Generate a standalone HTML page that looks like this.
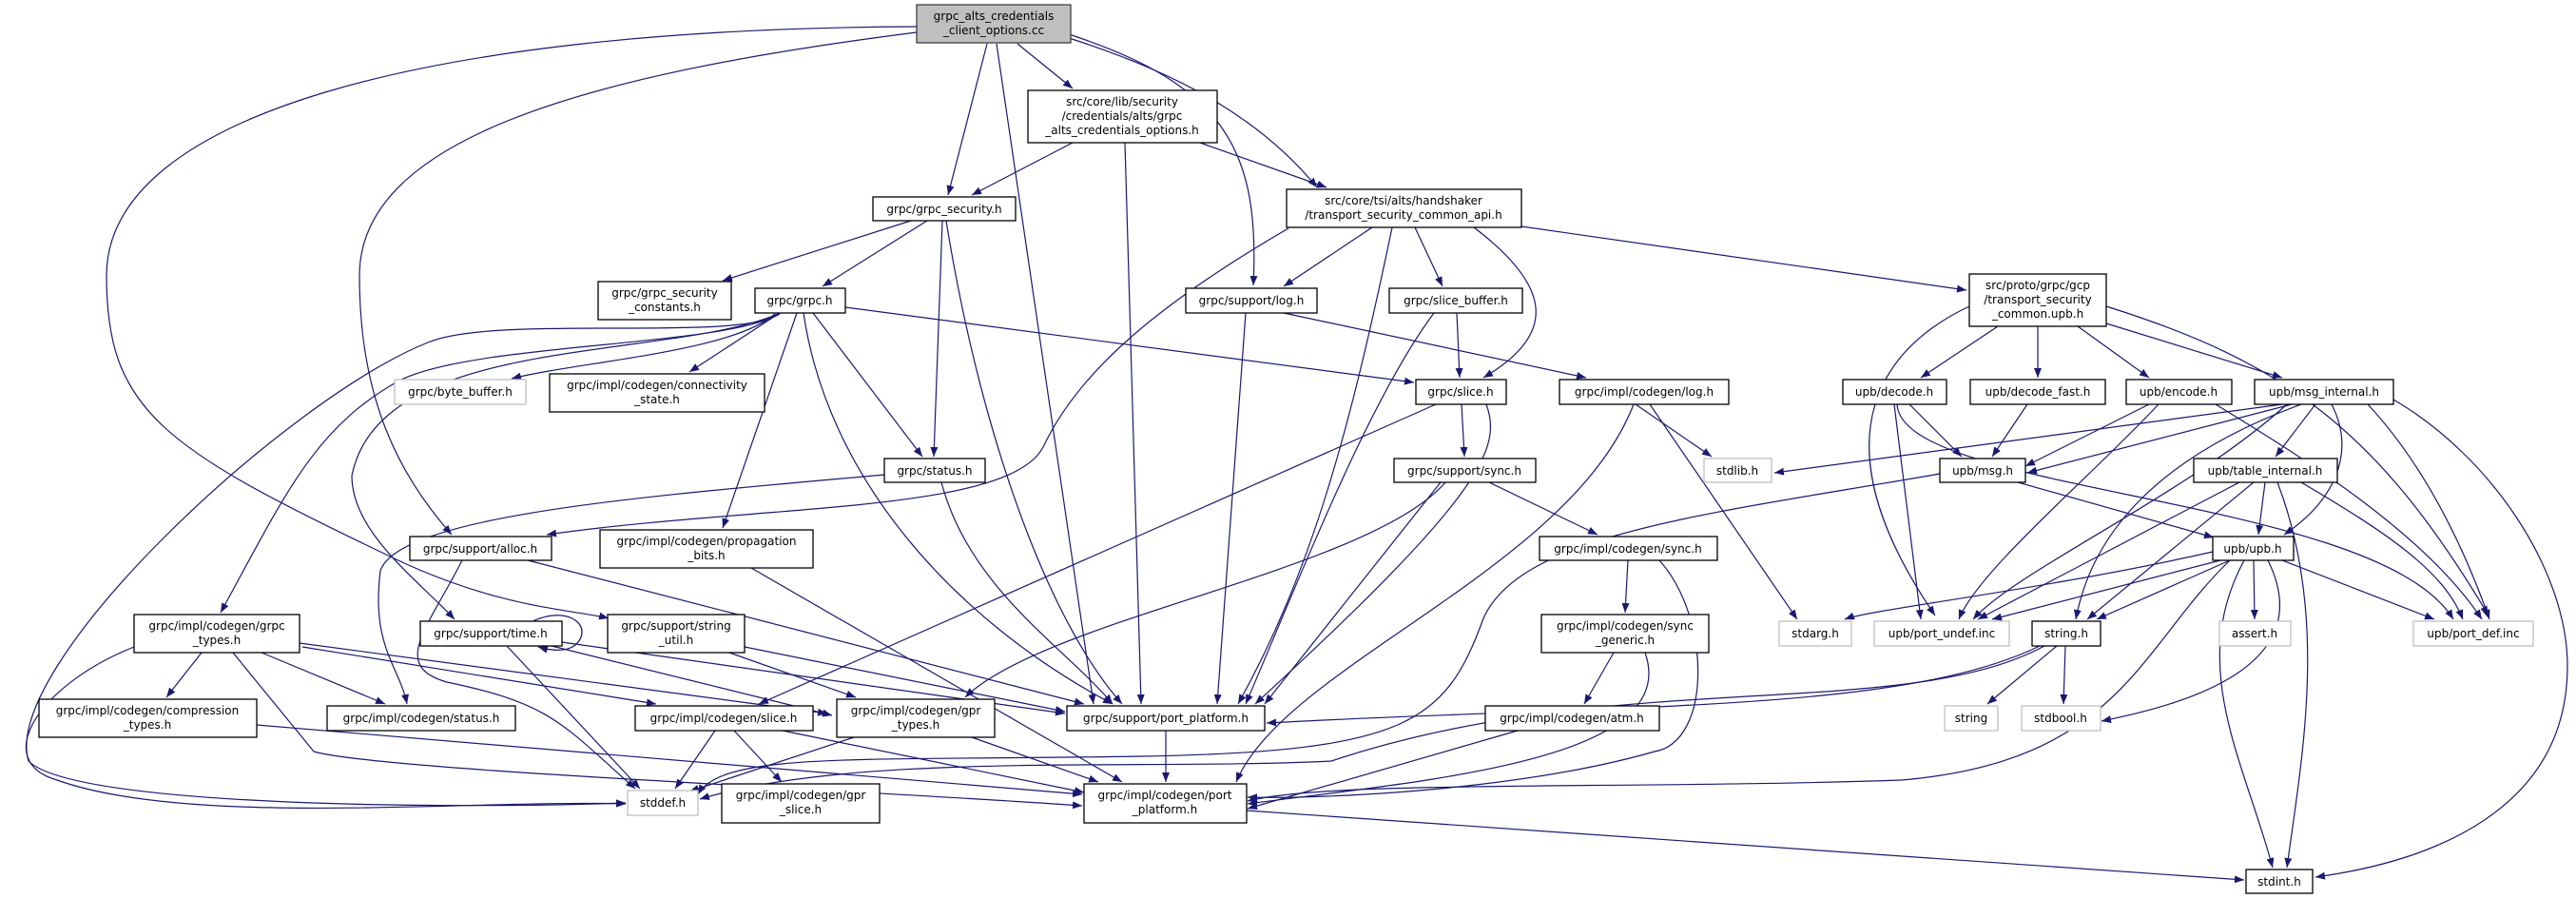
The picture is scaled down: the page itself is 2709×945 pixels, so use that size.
<!DOCTYPE html>
<html><head><meta charset="utf-8"><style>
html,body{margin:0;padding:0;background:#fff;}
svg{display:block;}
text{font-family:"DejaVu Sans","Liberation Sans",sans-serif;font-size:12px;fill:#000;text-anchor:middle;}
.e{fill:none;stroke:#191970;stroke-width:1.2;marker-end:url(#a);}
.n{fill:#fff;stroke:#000;stroke-width:1.3;}
.g{fill:#fff;stroke:#bfbfbf;stroke-width:1.3;}
</style></head><body>
<svg width="2709" height="945" viewBox="0 0 2709 945" xmlns="http://www.w3.org/2000/svg">
<defs><marker id="a" markerUnits="userSpaceOnUse" markerWidth="11" markerHeight="8" refX="10" refY="4" orient="auto"><path d="M0,0 L10,4 L0,8 z" fill="#191970"/></marker></defs>
<g>
<path class="e" d="M1070,46 L1128,93"/>
<path class="e" d="M1038,46 L997,205"/>
<path class="e" d="M1048,46 L1150,740"/>
<path class="e" d="M1124,36 C1290,90 1325,160 1318,300"/>
<path class="e" d="M1124,40 C1250,80 1330,130 1385,197"/>
<path class="e" d="M964,34 C600,80 378,150 378,290 C378,420 420,500 475,562"/>
<path class="e" d="M964,28 C450,30 112,120 112,290 C112,430 170,470 400,580 C520,640 600,640 640,650"/>
<path class="e" d="M1128,150 L1022,205"/>
<path class="e" d="M1183,150 L1200,740"/>
<path class="e" d="M1262,150 L1395,197"/>
<path class="e" d="M958,232 L760,295"/>
<path class="e" d="M975,232 L865,301"/>
<path class="e" d="M991,232 L982,480"/>
<path class="e" d="M995,232 C1030,450 1100,650 1180,740"/>
<path class="e" d="M815,330 C770,370 610,380 538,398"/>
<path class="e" d="M820,329 L725,391"/>
<path class="e" d="M889,323 L1487,402"/>
<path class="e" d="M855,329 L970,480"/>
<path class="e" d="M838,329 L760,555"/>
<path class="e" d="M845,329 C870,500 1000,650 1170,740"/>
<path class="e" d="M820,330 C760,365 500,360 420,400 C330,450 300,520 232,644"/>
<path class="e" d="M818,330 C700,380 400,350 370,500 C370,560 440,610 478,651"/>
<path class="e" d="M818,330 C780,360 520,330 450,360 C300,420 0,700 30,800 C80,850 500,850 658,844"/>
<path class="e" d="M1443,239 L1350,301"/>
<path class="e" d="M1488,239 L1517,301"/>
<path class="e" d="M1550,239 C1630,300 1640,350 1560,397"/>
<path class="e" d="M1464,239 C1420,450 1380,600 1302,740"/>
<path class="e" d="M1355,240 C1200,330 1130,400 1097,470 C1060,540 800,530 575,562"/>
<path class="e" d="M1600,238 L2068,305"/>
<path class="e" d="M1350,329 L1668,397"/>
<path class="e" d="M1310,329 L1280,740"/>
<path class="e" d="M1532,329 L1535,397"/>
<path class="e" d="M1508,329 C1440,420 1370,600 1310,740"/>
<path class="e" d="M1537,425 L1540,480"/>
<path class="e" d="M1510,425 L798,740"/>
<path class="e" d="M1563,425 C1580,470 1560,520 1320,740"/>
<path class="e" d="M1720,425 L1800,480"/>
<path class="e" d="M1735,425 L1890,651"/>
<path class="e" d="M1718,425 C1650,600 1350,700 1300,822"/>
<path class="e" d="M1566,507 L1680,562"/>
<path class="e" d="M1515,507 L1330,740"/>
<path class="e" d="M1520,507 C1440,600 1100,650 1015,733"/>
<path class="e" d="M1712,589 L1709,644"/>
<path class="e" d="M1745,589 C1800,650 1800,780 1740,790 C1600,830 1400,840 1312,838"/>
<path class="e" d="M1697,686 L1666,740"/>
<path class="e" d="M1730,686 C1770,800 1500,820 1312,845"/>
<path class="e" d="M1596,768 L1312,850"/>
<path class="e" d="M930,499 C700,520 420,540 400,600 C390,680 420,700 428,740"/>
<path class="e" d="M990,507 C1020,620 1120,680 1170,740"/>
<path class="e" d="M486,589 C450,660 410,700 470,717 C580,740 590,760 668,829"/>
<path class="e" d="M555,589 L1140,740"/>
<path class="e" d="M790,597 L1180,822"/>
<path class="e" d="M212,686 L175,733"/>
<path class="e" d="M275,686 L405,740"/>
<path class="e" d="M318,680 L690,740"/>
<path class="e" d="M315,676 L870,750"/>
<path class="e" d="M141,680 C40,720 -10,800 60,820 C200,870 500,840 658,845"/>
<path class="e" d="M245,686 L330,790 C400,810 900,830 1138,847"/>
<path class="e" d="M560,653 C600,635 625,660 605,678 C595,686 580,684 566,680"/>
<path class="e" d="M580,679 L875,752"/>
<path class="e" d="M533,679 L673,829"/>
<path class="e" d="M591,675 L1120,750"/>
<path class="e" d="M767,686 L900,733"/>
<path class="e" d="M783,680 L1120,748"/>
<path class="e" d="M270,762 L1138,835"/>
<path class="e" d="M752,768 L710,829"/>
<path class="e" d="M772,768 L822,822"/>
<path class="e" d="M823,768 L1140,833"/>
<path class="e" d="M898,775 L725,832"/>
<path class="e" d="M1022,775 L1155,822"/>
<path class="e" d="M1226,768 L1226,822"/>
<path class="e" d="M1311,852 L2360,925"/>
<path class="e" d="M2101,343 L2020,397"/>
<path class="e" d="M2143,343 L2143,397"/>
<path class="e" d="M2185,343 L2260,397"/>
<path class="e" d="M2215,340 L2400,397"/>
<path class="e" d="M2215,322 C2400,380 2500,450 2617,647"/>
<path class="e" d="M2071,322 C1990,360 1900,450 2035,647"/>
<path class="e" d="M2008,425 L2063,480"/>
<path class="e" d="M1992,425 L2020,651"/>
<path class="e" d="M1995,425 C2000,520 2500,520 2580,651"/>
<path class="e" d="M2132,425 L2095,480"/>
<path class="e" d="M2260,425 L2130,490"/>
<path class="e" d="M2270,425 C2200,500 2080,600 2060,651"/>
<path class="e" d="M2330,425 C2420,480 2550,560 2610,651"/>
<path class="e" d="M2400,425 L1866,497"/>
<path class="e" d="M2410,425 L2132,497"/>
<path class="e" d="M2435,425 L2393,480"/>
<path class="e" d="M2452,425 C2480,480 2450,530 2402,562"/>
<path class="e" d="M2420,425 C2270,480 2200,560 2183,651"/>
<path class="e" d="M2405,425 C2300,520 2120,600 2075,651"/>
<path class="e" d="M2490,425 C2560,500 2600,600 2618,651"/>
<path class="e" d="M2517,420 C2620,480 2700,600 2700,700 C2700,850 2560,905 2435,922"/>
<path class="e" d="M2122,507 L2328,565"/>
<path class="e" d="M2040,498 C1800,540 1600,560 1560,650 C1520,760 1480,790 1200,795 C900,800 760,790 734,835"/>
<path class="e" d="M2382,507 L2375,562"/>
<path class="e" d="M2370,507 L2195,651"/>
<path class="e" d="M2355,507 L2080,651"/>
<path class="e" d="M2420,507 C2510,560 2570,600 2590,651"/>
<path class="e" d="M2395,507 C2450,650 2420,800 2405,912"/>
<path class="e" d="M2327,580 C2150,620 1970,640 1940,651"/>
<path class="e" d="M2335,589 L2095,651"/>
<path class="e" d="M2345,589 L2205,651"/>
<path class="e" d="M2370,589 L2371,651"/>
<path class="e" d="M2400,589 L2560,651"/>
<path class="e" d="M2385,589 C2440,700 2300,740 2210,758"/>
<path class="e" d="M2360,589 C2300,700 2360,800 2390,912"/>
<path class="e" d="M2345,589 C2250,680 2230,800 2000,820 C1700,830 1400,820 1312,842"/>
<path class="e" d="M2163,679 L2090,740"/>
<path class="e" d="M2172,679 L2170,740"/>
<path class="e" d="M2150,679 C2000,760 1700,700 1400,800 C1200,810 900,790 736,840"/>
<path class="e" d="M2145,679 C2000,750 1700,740 1332,760"/>
</g>
<g>
<rect x="964" y="5" width="162" height="40" fill="#bfbfbf" stroke="#404040" stroke-width="1.3"/>
<text x="1045" y="21">grpc_alts_credentials</text><text x="1045" y="36">_client_options.cc</text>

<rect class="n" x="1081" y="95" width="199" height="55"/>
<text x="1180" y="111">src/core/lib/security</text><text x="1180" y="126">/credentials/alts/grpc</text><text x="1180" y="141">_alts_credentials_options.h</text>

<rect class="n" x="918" y="207" width="150" height="25"/><text x="993" y="224">grpc/grpc_security.h</text>
<rect class="n" x="629" y="296" width="140" height="40"/><text x="699" y="312">grpc/grpc_security</text><text x="699" y="327">_constants.h</text>
<rect class="n" x="794" y="303" width="95" height="26"/><text x="841" y="320">grpc/grpc.h</text>
<rect class="g" x="415" y="399" width="138" height="26"/><text x="484" y="416">grpc/byte_buffer.h</text>
<rect class="n" x="578" y="393" width="226" height="40"/><text x="691" y="409">grpc/impl/codegen/connectivity</text><text x="691" y="424">_state.h</text>
<rect class="n" x="1247" y="303" width="138" height="26"/><text x="1316" y="320">grpc/support/log.h</text>
<rect class="n" x="1353" y="199" width="247" height="40"/><text x="1476" y="215">src/core/tsi/alts/handshaker</text><text x="1476" y="230">/transport_security_common_api.h</text>
<rect class="n" x="1461" y="303" width="140" height="26"/><text x="1531" y="320">grpc/slice_buffer.h</text>
<rect class="n" x="2071" y="288" width="144" height="55"/><text x="2143" y="304">src/proto/grpc/gcp</text><text x="2143" y="319">/transport_security</text><text x="2143" y="334">_common.upb.h</text>
<rect class="n" x="1489" y="399" width="95" height="26"/><text x="1536" y="416">grpc/slice.h</text>
<rect class="n" x="1640" y="399" width="178" height="26"/><text x="1729" y="416">grpc/impl/codegen/log.h</text>
<rect class="n" x="1938" y="399" width="109" height="26"/><text x="1992" y="416">upb/decode.h</text>
<rect class="n" x="2072" y="399" width="142" height="26"/><text x="2143" y="416">upb/decode_fast.h</text>
<rect class="n" x="2236" y="399" width="111" height="26"/><text x="2291" y="416">upb/encode.h</text>
<rect class="n" x="2371" y="399" width="146" height="26"/><text x="2444" y="416">upb/msg_internal.h</text>

<rect class="n" x="930" y="482" width="106" height="25"/><text x="983" y="499">grpc/status.h</text>
<rect class="n" x="431" y="564" width="149" height="25"/><text x="505" y="581">grpc/support/alloc.h</text>
<rect class="n" x="631" y="557" width="224" height="40"/><text x="743" y="573">grpc/impl/codegen/propagation</text><text x="743" y="588">_bits.h</text>
<rect class="n" x="141" y="646" width="174" height="40"/><text x="228" y="662">grpc/impl/codegen/grpc</text><text x="228" y="677">_types.h</text>
<rect class="n" x="442" y="653" width="149" height="26"/><text x="516" y="670">grpc/support/time.h</text>
<rect class="n" x="639" y="646" width="144" height="40"/><text x="711" y="662">grpc/support/string</text><text x="711" y="677">_util.h</text>
<rect class="n" x="41" y="735" width="229" height="40"/><text x="155" y="751">grpc/impl/codegen/compression</text><text x="155" y="766">_types.h</text>
<rect class="n" x="344" y="742" width="198" height="26"/><text x="443" y="759">grpc/impl/codegen/status.h</text>
<rect class="n" x="668" y="742" width="187" height="26"/><text x="761" y="759">grpc/impl/codegen/slice.h</text>
<rect class="n" x="880" y="735" width="166" height="40"/><text x="963" y="751">grpc/impl/codegen/gpr</text><text x="963" y="766">_types.h</text>
<rect class="n" x="1122" y="742" width="208" height="26"/><text x="1226" y="759">grpc/support/port_platform.h</text>
<rect class="g" x="660" y="831" width="74" height="26"/><text x="697" y="848">stddef.h</text>
<rect class="n" x="759" y="824" width="166" height="41"/><text x="842" y="840">grpc/impl/codegen/gpr</text><text x="842" y="855">_slice.h</text>
<rect class="n" x="1140" y="824" width="171" height="41"/><text x="1225" y="840">grpc/impl/codegen/port</text><text x="1225" y="855">_platform.h</text>

<rect class="n" x="1466" y="482" width="149" height="25"/><text x="1540" y="499">grpc/support/sync.h</text>
<rect class="g" x="1792" y="482" width="71" height="25"/><text x="1827" y="499">stdlib.h</text>
<rect class="n" x="2040" y="482" width="90" height="25"/><text x="2085" y="499">upb/msg.h</text>
<rect class="n" x="2307" y="482" width="151" height="25"/><text x="2382" y="499">upb/table_internal.h</text>
<rect class="n" x="1619" y="564" width="187" height="25"/><text x="1712" y="581">grpc/impl/codegen/sync.h</text>
<rect class="n" x="2327" y="564" width="85" height="25"/><text x="2369" y="581">upb/upb.h</text>
<rect class="n" x="1621" y="646" width="176" height="40"/><text x="1709" y="662">grpc/impl/codegen/sync</text><text x="1709" y="677">_generic.h</text>
<rect class="g" x="1871" y="653" width="76" height="26"/><text x="1909" y="670">stdarg.h</text>
<rect class="g" x="1971" y="653" width="142" height="26"/><text x="2042" y="670">upb/port_undef.inc</text>
<rect class="n" x="2137" y="653" width="72" height="26"/><text x="2173" y="670">string.h</text>
<rect class="g" x="2334" y="653" width="75" height="26"/><text x="2371" y="670">assert.h</text>
<rect class="g" x="2538" y="653" width="126" height="26"/><text x="2601" y="670">upb/port_def.inc</text>
<rect class="n" x="1562" y="742" width="183" height="26"/><text x="1653" y="759">grpc/impl/codegen/atm.h</text>
<rect class="g" x="2045" y="742" width="56" height="26"/><text x="2073" y="759">string</text>
<rect class="g" x="2126" y="742" width="83" height="26"/><text x="2167" y="759">stdbool.h</text>
<rect class="n" x="2362" y="914" width="70" height="25"/><text x="2397" y="931">stdint.h</text>
</g>
</svg>
</body></html>
